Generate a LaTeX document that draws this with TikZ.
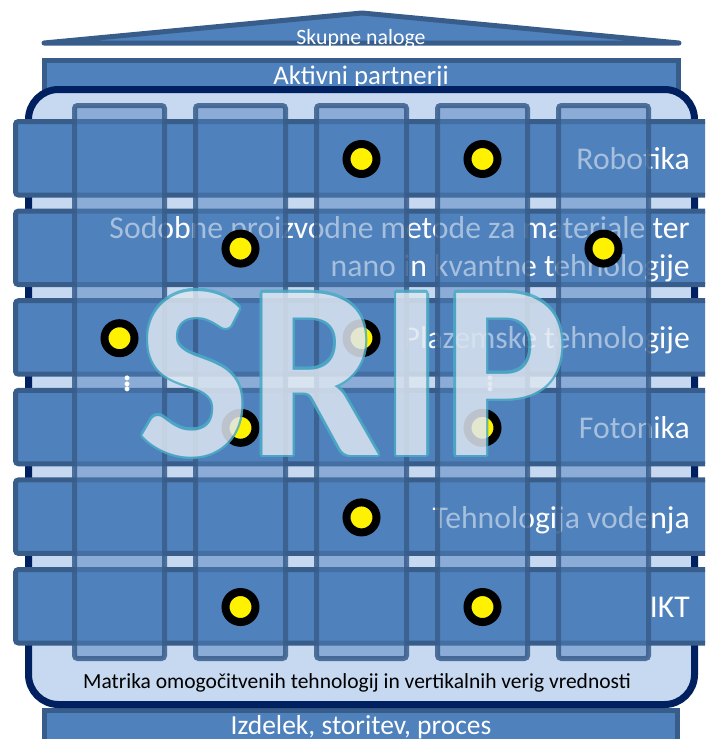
\documentclass[tikz,border=0pt]{standalone}
\usepackage{fontspec}
\setmainfont{Carlito}
\newfontfamily\sripfont{Carlito}[FakeStretch=0.935]

\definecolor{barblue}{HTML}{4F81BD}
\definecolor{edgeblue}{HTML}{385D8A}
\definecolor{framenavy}{HTML}{002060}
\definecolor{paleblue}{HTML}{C6D9F1}
\definecolor{sripfill}{HTML}{DDE6F1}
\definecolor{sripline}{HTML}{4BACC6}

\begin{document}
\begin{tikzpicture}[x=1pt, y=-1pt,
        bar/.style={fill=barblue, draw=edgeblue, line width=5pt, rounded corners=3pt},
        colbar/.style={fill=barblue, fill opacity=0.5, draw=edgeblue, draw opacity=0.85, line width=5pt, rounded corners=3pt},
        hit/.style={draw=black, fill=yellow, line width=8pt},
        rowtext/.style={text=white, font=\fontsize{31.7}{38}\selectfont, anchor=base east, inner sep=0pt, align=right},
        captext/.style={text=white, anchor=base, inner sep=0pt},
        moretext/.style={text=white, inner sep=0pt, font=\fontsize{40}{40}\selectfont},
        sriptext/.style={font=\sripfont\bfseries\fontsize{250}{250}\selectfont, anchor=base, inner sep=0pt}]

        \useasboundingbox (0,0) rectangle (705,739);
        \clip (0,0) rectangle (705,739);

        %%roof
        \draw[bar, rounded corners=0pt, line join=round] (44,43) -- (362,13) -- (679,43) -- cycle;
        \node[captext, font=\fontsize{21.8}{25}\selectfont] (tasks) at (361,44) {Skupne naloge};

        %%partners and product
        \draw[bar, rounded corners=0pt] (44.5,60.5) rectangle (678.5,110);
        \node[captext, font=\fontsize{26.8}{30}\selectfont] (partners) at (361,84) {Aktivni partnerji};
        \draw[bar, rounded corners=0pt] (44.5,710.5) rectangle (677.5,760);
        \node[captext, font=\fontsize{27.5}{30}\selectfont] (product) at (361,734) {Izdelek, storitev, proces};

        %%matrix frame
        \draw[draw=framenavy, fill=paleblue, line width=7pt, rounded corners=30pt] (28.5,89.5) rectangle (694.5,704.5);
        \node[anchor=base, inner sep=0pt, font=\fontsize{21.5}{24}\selectfont] (matrix) at (357,688)
            {Matrika omogočitvenih tehnologij in vertikalnih verig vrednosti};

        %%rows
        \foreach \k in {0,...,5}
            \draw[bar] (15.5,{121.5+89.6*\k}) rectangle (730,{195+89.6*\k});

        \node[rowtext] (robotics) at (690,169) {Robotika};
        \node[rowtext] (materials) at (690,276) {Sodobne proizvodne metode za materiale ter\\nano in kvantne tehnologije};
        \node[rowtext] (plasma) at (690,348) {Plazemske tehnologije};
        \node[rowtext] (photonics) at (690,438) {Fotonika};
        \node[rowtext] (water) at (690,528) {Tehnologija vodenja};
        \node[rowtext] (ict) at (690,617) {IKT};

        %%columns
        \foreach \i in {0,...,4}
            \draw[colbar] ({74.5+121*\i},105.5) rectangle ({164.5+121*\i},658.5);

        %%crossings
        \foreach \r/\c in {1/3,1/4,2/2,2/5,3/1,3/3,4/2,4/4,5/3,6/2,6/4}
            \draw[hit] ({119.5+121*(\c-1)},{159+89.6*(\r-1)}) circle[radius=15pt];

        \node[moretext] (more1) at (128,381) {$\vdots$};
        \node[moretext] (more2) at (491,381) {$\vdots$};

        %%SRIP
        \begin{scope}[transparency group, opacity=0.85]
            \foreach \a in {0,30,...,330}
                \node[sriptext, text=sripline, shift={(\a:2.4pt)}] at (353,455) {SRIP};
            \node[sriptext, text=sripfill] (srip) at (353,455) {SRIP};
        \end{scope}

    \end{tikzpicture}
\end{document}
